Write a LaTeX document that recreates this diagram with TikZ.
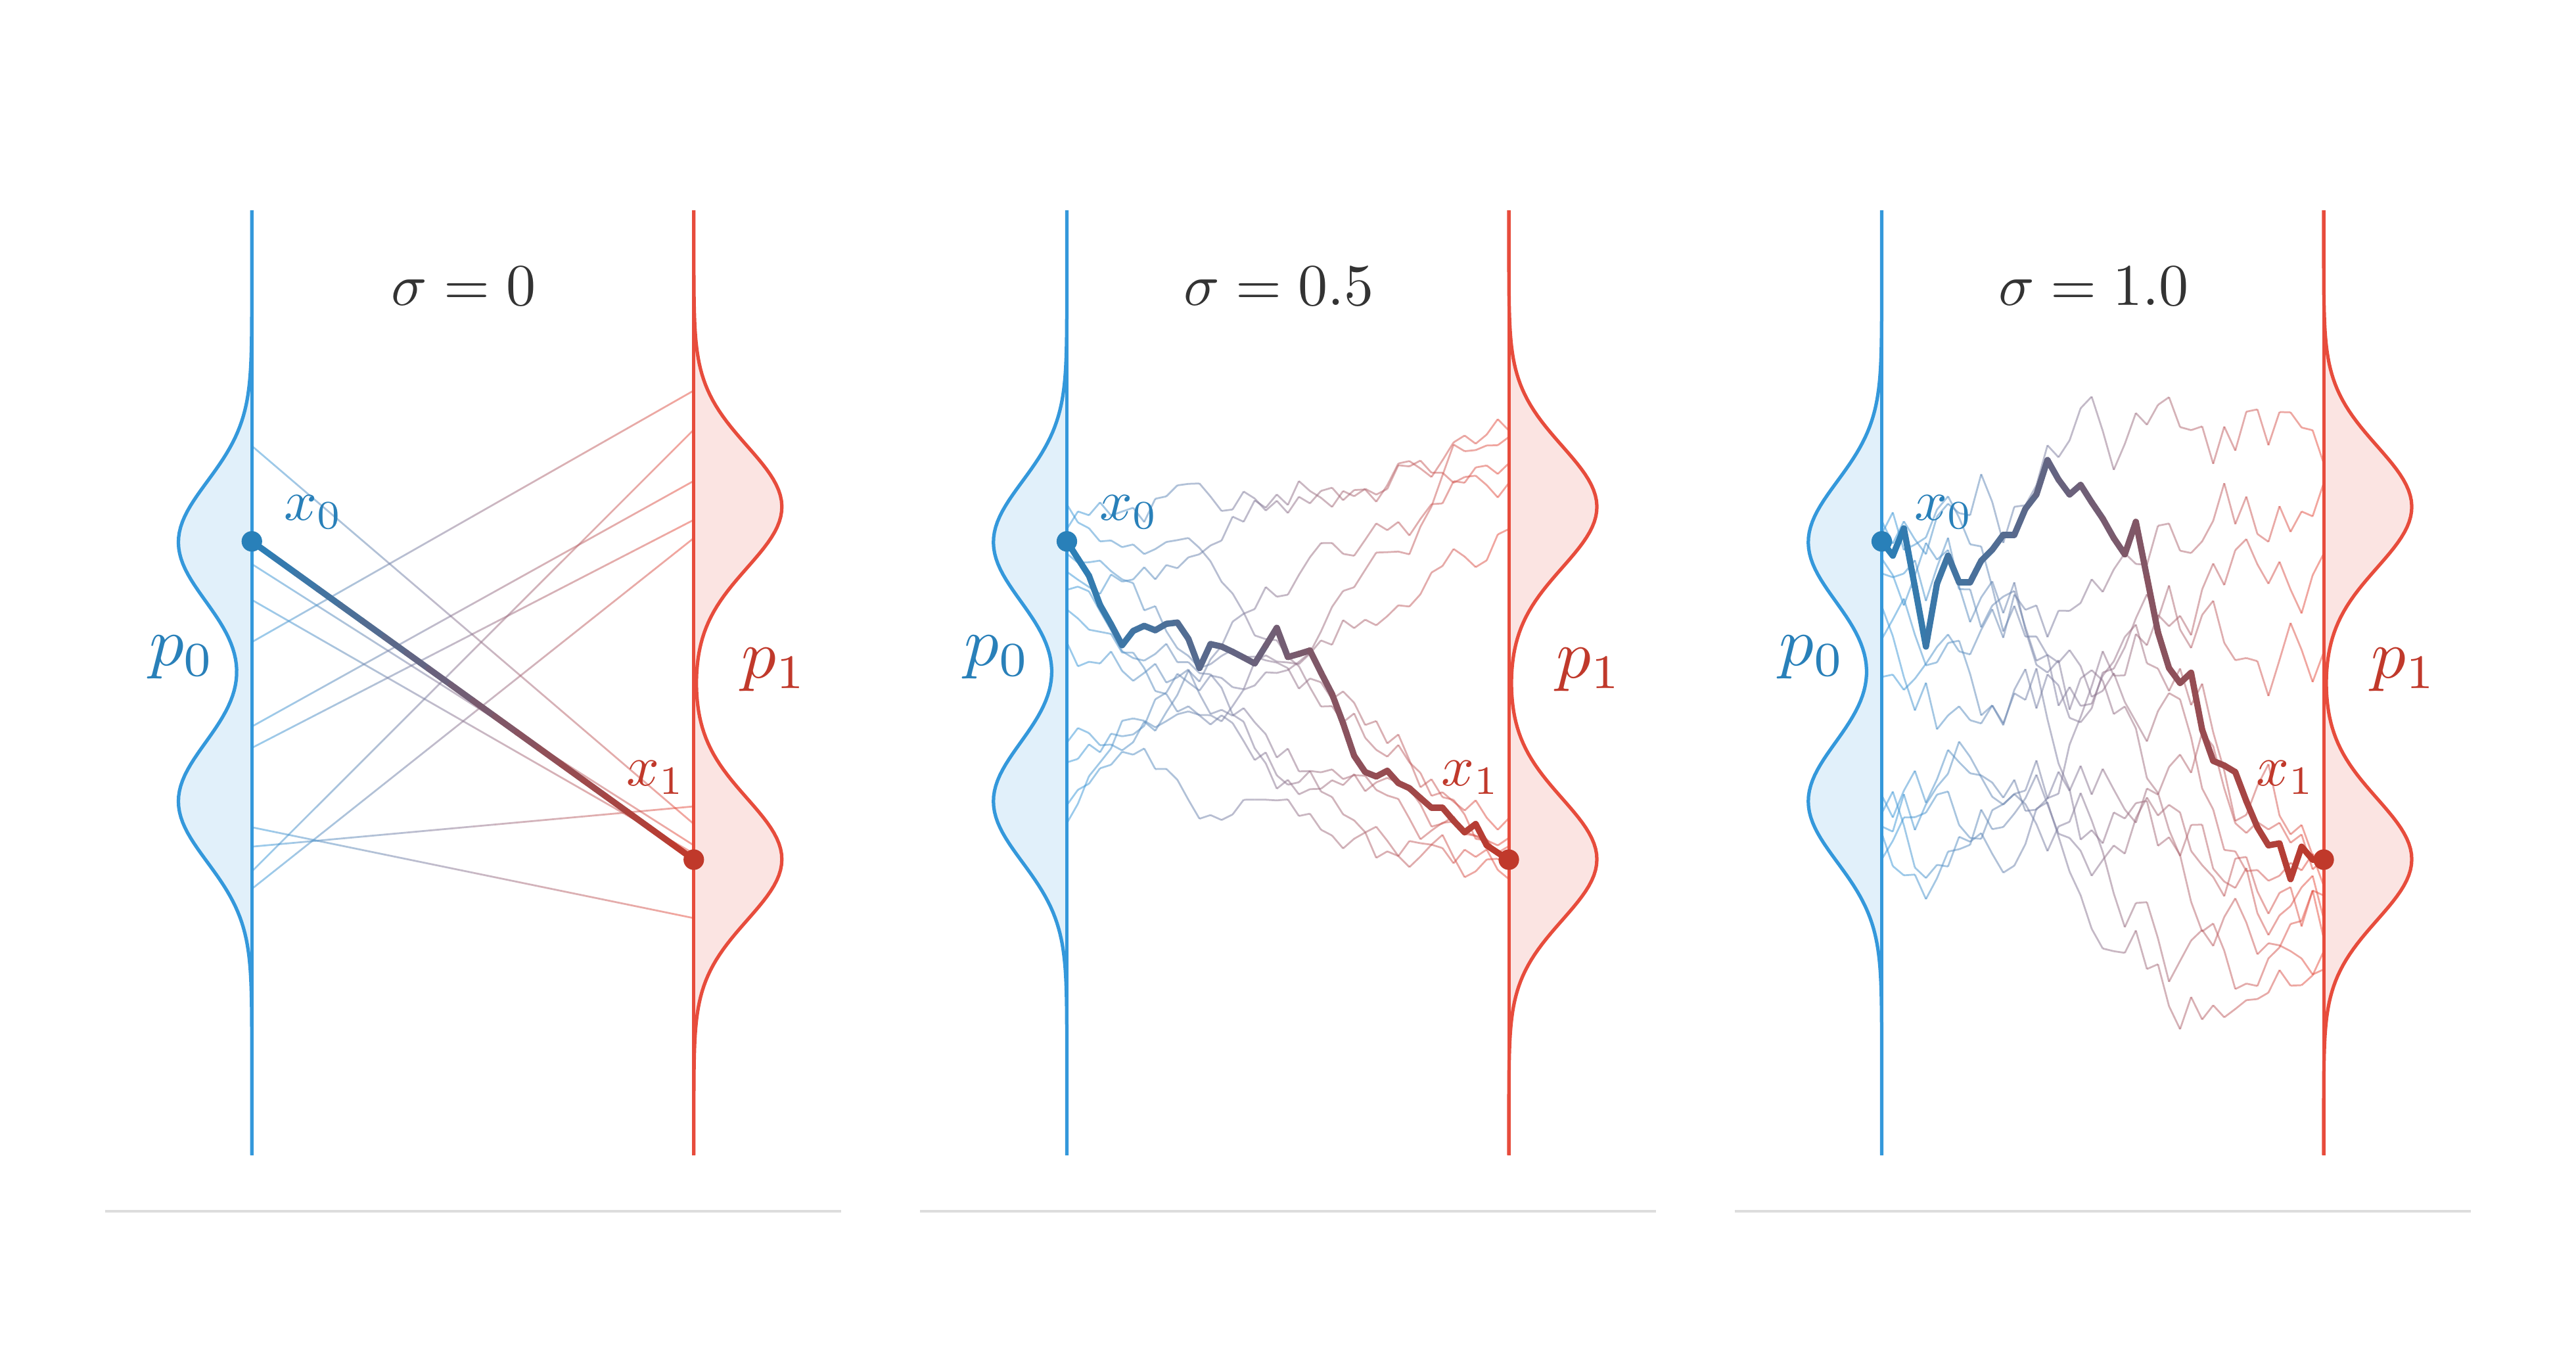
\documentclass[tikz,border=0pt]{standalone}
\usetikzlibrary{calc}
\definecolor{pzeroblue}{RGB}{52,152,219}
\definecolor{pzerodark}{RGB}{41,128,185}
\definecolor{ponered}{RGB}{231,76,60}
\definecolor{ponedark}{RGB}{192,57,43}
\definecolor{titlegray}{RGB}{51,51,51}
\definecolor{rulegray}{RGB}{221,221,221}
\tikzset{
  axisline/.style={line width=2},
  densline/.style={line width=2.1},
  thinwalk/.style={line width=1.1,opacity=0.5},
  thickwalk/.style={line width=3.8,line cap=round},
  enddot/.style={circle,inner sep=0pt,minimum size=12.5},
  ptitle/.style={text=titlegray,scale=3.6},
  plabel/.style={anchor=base,scale=4.2},
  ptlabel/.style={anchor=base,scale=3.5}
}
% densities, axes, rule and title of one panel
\newcommand{\panelframe}[3]{%
  \begin{scope}[shift={(#1,0)}]
    \fill[pzeroblue,opacity=0.15] plot[domain=128:703,samples=180] ({-pzero(\x)},\x) -- cycle;
    \fill[ponered,opacity=0.15] plot[domain=128:703,samples=180] ({269+pone(\x)},\x) -- cycle;
    \draw[pzeroblue,densline] plot[domain=128:703,samples=180] ({-pzero(\x)},\x);
    \draw[ponered,densline] plot[domain=128:703,samples=180] ({269+pone(\x)},\x);
    \draw[pzeroblue,axisline] (0,128) -- (0,703);
    \draw[ponered,axisline] (269,128) -- (269,703);
    \draw[rulegray,line width=1.6] (-89.5,737) -- (358.5,737);
    \node[ptitle] (#3title) at (129,174) {$\sigma = #2$};
  \end{scope}}
% end points and labels of one panel
\newcommand{\panellabels}[2]{%
  \begin{scope}[shift={(#1,0)}]
    \node[enddot,fill=pzerodark] (#2dotzero) at (#2start) {};
    \node[enddot,fill=ponedark] (#2dotone) at (#2end) {};
    \node[plabel,text=pzerodark] (#2pzero) at (-42.5,405) {$p_0$};
    \node[plabel,text=ponedark] (#2pone) at (318,412.5) {$p_1$};
    \node[ptlabel,text=pzerodark] (#2xzero) at (37.7,316.7) {$x_0$};
    \node[ptlabel,text=ponedark] (#2xone) at (245.9,478) {$x_1$};
  \end{scope}}
% straight coupling, blue to red
\newcommand{\fadeline}[3]{%
  \foreach \s in {1,...,20}{%
    \pgfmathtruncatemacro\mixpct{102.5-5*\s}%
    \draw[#3,color=pzeroblue!\mixpct!ponered]
      ({13.45*(\s-1)},{#1+(#2-#1)*(\s-1)/20}) -- ({13.45*\s},{#1+(#2-#1)*\s/20});}}
% random bridge: start, end, step, seed, style
\newcommand{\bridgewalk}[5]{%
  \pgfmathsetseed{#4}\gdef\wend{0}%
  \foreach \k in {1,...,40}{\pgfmathparse{\wend+rand}\xdef\wend{\pgfmathresult}}%
  \pgfmathsetseed{#4}\gdef\wcur{0}\xdef\ylast{#1}%
  \foreach \k in {1,...,40}{%
    \pgfmathparse{\wcur+rand}\xdef\wcur{\pgfmathresult}%
    \pgfmathsetmacro\ynext{#1+(#2-#1)*\k/40+#3*(\wcur-\k/40*\wend)}%
    \pgfmathtruncatemacro\mixpct{101.25-2.5*\k}%
    \draw[#5,color=pzeroblue!\mixpct!ponered] ({6.725*(\k-1)},\ylast) -- ({6.725*\k},\ynext);%
    \xdef\ylast{\ynext}}}
% highlighted path from sampled values
\newcommand{\datawalk}[1]{%
  \foreach \y [count=\k, remember=\y as \ylast (initially 329.5)] in {#1}{%
    \pgfmathtruncatemacro\mixpct{101.25-2.5*\k}%
    \draw[thickwalk,color=pzerodark!\mixpct!ponedark] ({6.725*(\k-1)},\ylast) -- ({6.725*\k},\y);}}
\begin{document}
\begin{tikzpicture}[x=1pt,y=-1pt,
  declare function={
    pzero(\t)=44.7*(exp(-min(0.5*((\t-330)/37)^2,9))+exp(-min(0.5*((\t-487.7)/37)^2,9)));
    pone(\t)=53.6*(exp(-min(0.5*((\t-308.5)/37)^2,9))+exp(-min(0.5*((\t-523)/37)^2,9)));}]
  \useasboundingbox (0,0) rectangle (1568,832);
  \panelframe{153.3}{0}{a}
  \panelframe{649.4}{0.5}{b}
  \panelframe{1145.4}{1.0}{c}
  % sigma = 0
  \begin{scope}[shift={(153.3,0)}]
    \foreach \ya/\yb in {271.4/501.5,343.3/514.5,365.1/519.5,390.8/237.7,442.2/292.7,
                         455.2/316.4,503.5/558.8,515.3/490.8,530.4/261.5,541.0/327.5}
      {\fadeline{\ya}{\yb}{thinwalk}}
    \coordinate (astart) at (0,329.5);
    \coordinate (aend) at (269,523.2);
  \end{scope}
  \foreach \s in {1,...,20}{%
    \pgfmathtruncatemacro\mixpct{102.5-5*\s}
    \draw[thickwalk,color=pzerodark!\mixpct!ponedark]
      ($(astart)!{(\s-1)/20}!(aend)$) -- ($(astart)!{\s/20}!(aend)$);}
  % sigma = 0.5
  \begin{scope}[shift={(649.4,0)}]
    \foreach \ya/\yb/\sd in {307/498/11,322/262/12,337/510/13,348/294/14,359/515/15,371/520/16,
                             391/528/17,452/282/18,464/322/19,490/535/23,501/266/21}
      {\bridgewalk{\ya}{\yb}{12}{\sd}{thinwalk}}
    \coordinate (bstart) at (0,329.5);
    \coordinate (bend) at (269,523.2);
    \datawalk{340,350.4,368.2,380,392.7,384.0,380.9,383.6,379.7,378.9,388.8,406.6,392.0,393.5,
      396.7,400.2,403.8,393,382.1,399.9,398,395.9,409.4,422.4,440.2,460.0,469.9,472.6,469.1,
      476.6,479.7,485.7,491.6,491.6,499.5,506.6,501.5,514.5,519,523.2}
  \end{scope}
  % sigma = 1.0
  \begin{scope}[shift={(1145.4,0)}]
    \foreach \ya/\yb/\sd in {317/282/51,325/539/52,349/559/53,369/397/54,389/571/55,412/294/56,
                             484/337/57,495/579/58,503/523/59,507/545/60,523/590/61,340/530/62}
      {\bridgewalk{\ya}{\yb}{26}{\sd}{thinwalk}}
    \coordinate (cstart) at (0,329.5);
    \coordinate (cend) at (269,523.2);
    \datawalk{338.2,321.6,357.2,393.5,355.2,338.2,354.4,354.4,341.3,334.6,325.5,325.5,309.7,
      301.0,280.0,291.9,301.0,295.1,305.7,315.6,327.5,337.4,317.6,351.2,384.8,406.6,415.7,409.4,
      444.1,463.1,465.9,469.9,487.6,503.5,514.5,513.3,535.1,515.3,523.2,523.2}
  \end{scope}
  \panellabels{153.3}{a}
  \panellabels{649.4}{b}
  \panellabels{1145.4}{c}
\end{tikzpicture}
\end{document}
